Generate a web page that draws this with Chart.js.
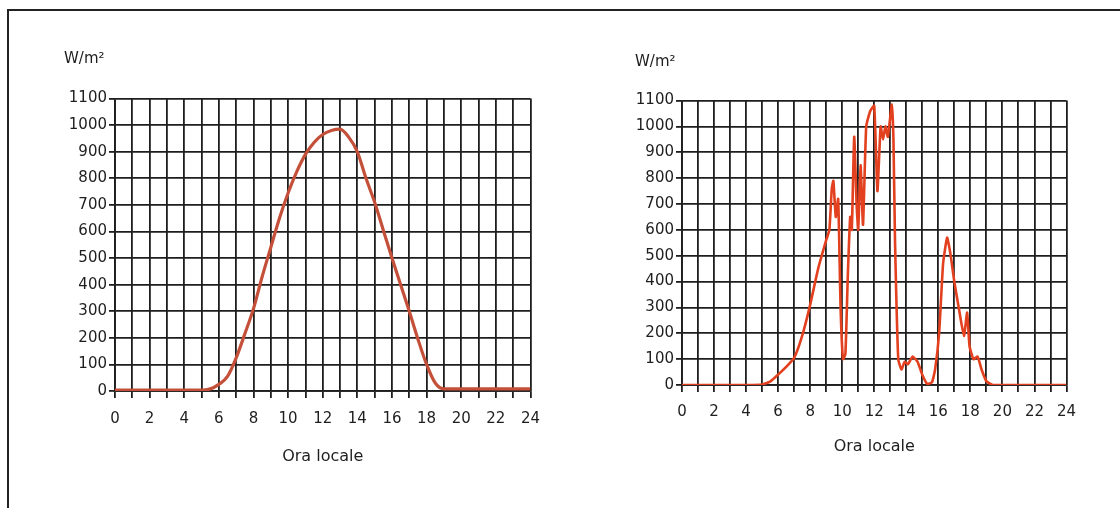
<!DOCTYPE html>
<html>
<head>
<meta charset="utf-8">
<script src="https://cdn.jsdelivr.net/npm/chart.js@4.4.1/dist/chart.umd.min.js"></script>
<style>
  html, body { margin: 0; padding: 0; background: #fff; overflow: hidden; }
  body { width: 1120px; height: 508px; position: relative; }
  #frame { position: absolute; left: 7px; top: 9px; width: 1200px; height: 600px; border: 2px solid #222; }
  .box { position: absolute; }
  #left { left: 50px; top: 44px; width: 502px; height: 422px; }
  #right { left: 621px; top: 47px; width: 466px; height: 409px; }
</style>
</head>
<body>
<div id="frame"></div>
<div class="box" id="left"><canvas id="chartLeft"></canvas></div>
<div class="box" id="right"><canvas id="chartRight"></canvas></div>
<script>
// ---- data ----
const unitLabel = 'W/m²';
const axisLabel = 'Ora locale';

// clear day
const clearHours = [0, 1, 2, 3, 4, 5, 5.5, 6, 6.5, 7, 7.5, 8, 8.5, 9, 9.5, 10, 10.5, 11, 11.5, 12,
  12.5, 13, 13.5, 14, 14.5, 15, 15.5, 16, 16.5, 17, 17.5, 18, 18.5, 19, 20, 21, 22, 23, 24];
const clearValues = [3, 3, 3, 3, 3, 3, 8, 25, 55, 125, 215, 310, 430, 540, 650, 745, 825, 890, 935, 965,
  980, 985, 955, 900, 800, 710, 605, 500, 400, 300, 195, 100, 30, 8, 8, 8, 8, 8, 8];

// cloudy day
const cloudyHours = [0, 1, 2, 3, 4, 5, 5.5, 6, 6.5, 7, 7.5, 8, 8.5, 9, 9.2, 9.35, 9.45, 9.6, 9.75, 9.9,
  10.05, 10.2, 10.35, 10.5, 10.6, 10.75, 10.9, 11, 11.15, 11.3, 11.5, 11.75, 12, 12.2, 12.4, 12.55, 12.7,
  12.85, 13.1, 13.2, 13.3, 13.5, 13.7, 13.9, 14.1, 14.4, 14.7, 15, 15.3, 15.6, 15.8, 16.05, 16.3, 16.55,
  16.75, 17, 17.3, 17.6, 17.8, 17.95, 18.2, 18.45, 18.7, 19, 19.4, 20, 21, 22, 23, 24];
const cloudyValues = [0, 0, 0, 0, 0, 2, 13, 40, 70, 105, 190, 310, 450, 560, 600, 760, 790, 650, 720, 300,
  100, 120, 420, 650, 600, 960, 700, 600, 850, 620, 1000, 1060, 1080, 750, 1000, 950, 1000,
  960, 1085, 950, 550, 100, 60, 90, 80, 110, 90, 40, 5, 10, 60, 200, 470, 570,
  510, 400, 290, 190, 280, 150, 100, 110, 60, 15, 0, 0, 0, 0, 0, 0];

const yMax = 1100;
const yStep = 100;
const xMax = 24;

const FONT = 'DejaVu Sans';
const INK = '#1e1e1e';

function makeChart(id, hours, values, color, width, tension, opts) {
  const points = hours.map((h, i) => ({ x: h, y: values[i] }));
  return new Chart(document.getElementById(id), {
    type: 'line',
    data: {
      datasets: [{
        data: points,
        borderColor: color,
        borderWidth: width,
        pointRadius: 0,
        tension: tension,
        cubicInterpolationMode: opts.monotone ? 'monotone' : 'default'
      }]
    },
    options: {
      responsive: true,
      maintainAspectRatio: false,
      animation: false,
      layout: { padding: { left: 14, right: 20, top: 0, bottom: 0 } },
      plugins: {
        legend: { display: false },
        tooltip: { enabled: false },
        title: {
          display: true,
          text: unitLabel,
          align: 'start',
          color: INK,
          font: { family: FONT, size: 15, weight: 'normal' },
          padding: { top: 6, bottom: opts.titleGap }
        }
      },
      scales: {
        x: {
          type: 'linear',
          min: 0,
          max: xMax,
          afterFit: s => { s.height = opts.xHeight; },
          grid: { color: INK, lineWidth: 1.8, tickLength: 7 },
          border: { color: INK, width: 1.8 },
          ticks: {
            stepSize: 1,
            autoSkip: false,
            maxRotation: 0,
            padding: opts.xPad,
            color: INK,
            font: { family: FONT, size: 15 },
            callback: v => (v % 2 === 0 ? String(v) : '')
          },
          title: {
            display: true,
            text: axisLabel,
            color: INK,
            font: { family: FONT, size: 16 },
            padding: { top: 0, bottom: 0 }
          }
        },
        y: {
          min: 0,
          max: yMax,
          afterFit: s => { s.width = opts.yWidth; },
          grid: { color: INK, lineWidth: 1.8, tickLength: 6 },
          border: { color: INK, width: 1.8 },
          ticks: {
            stepSize: yStep,
            padding: 2,
            color: INK,
            font: { family: FONT, size: 15 },
            callback: v => String(v)
          }
        }
      }
    }
  });
}

makeChart('chartLeft', clearHours, clearValues, '#c4503a', 3.2, 0.4,
  { monotone: true, titleGap: 30.6, xHeight: 75, xPad: 12, yWidth: 51 });
makeChart('chartRight', cloudyHours, cloudyValues, '#e2401e', 2.6, 0.15,
  { monotone: false, titleGap: 29.6, xHeight: 71, xPad: 11, yWidth: 47 });
</script>
</body>
</html>
